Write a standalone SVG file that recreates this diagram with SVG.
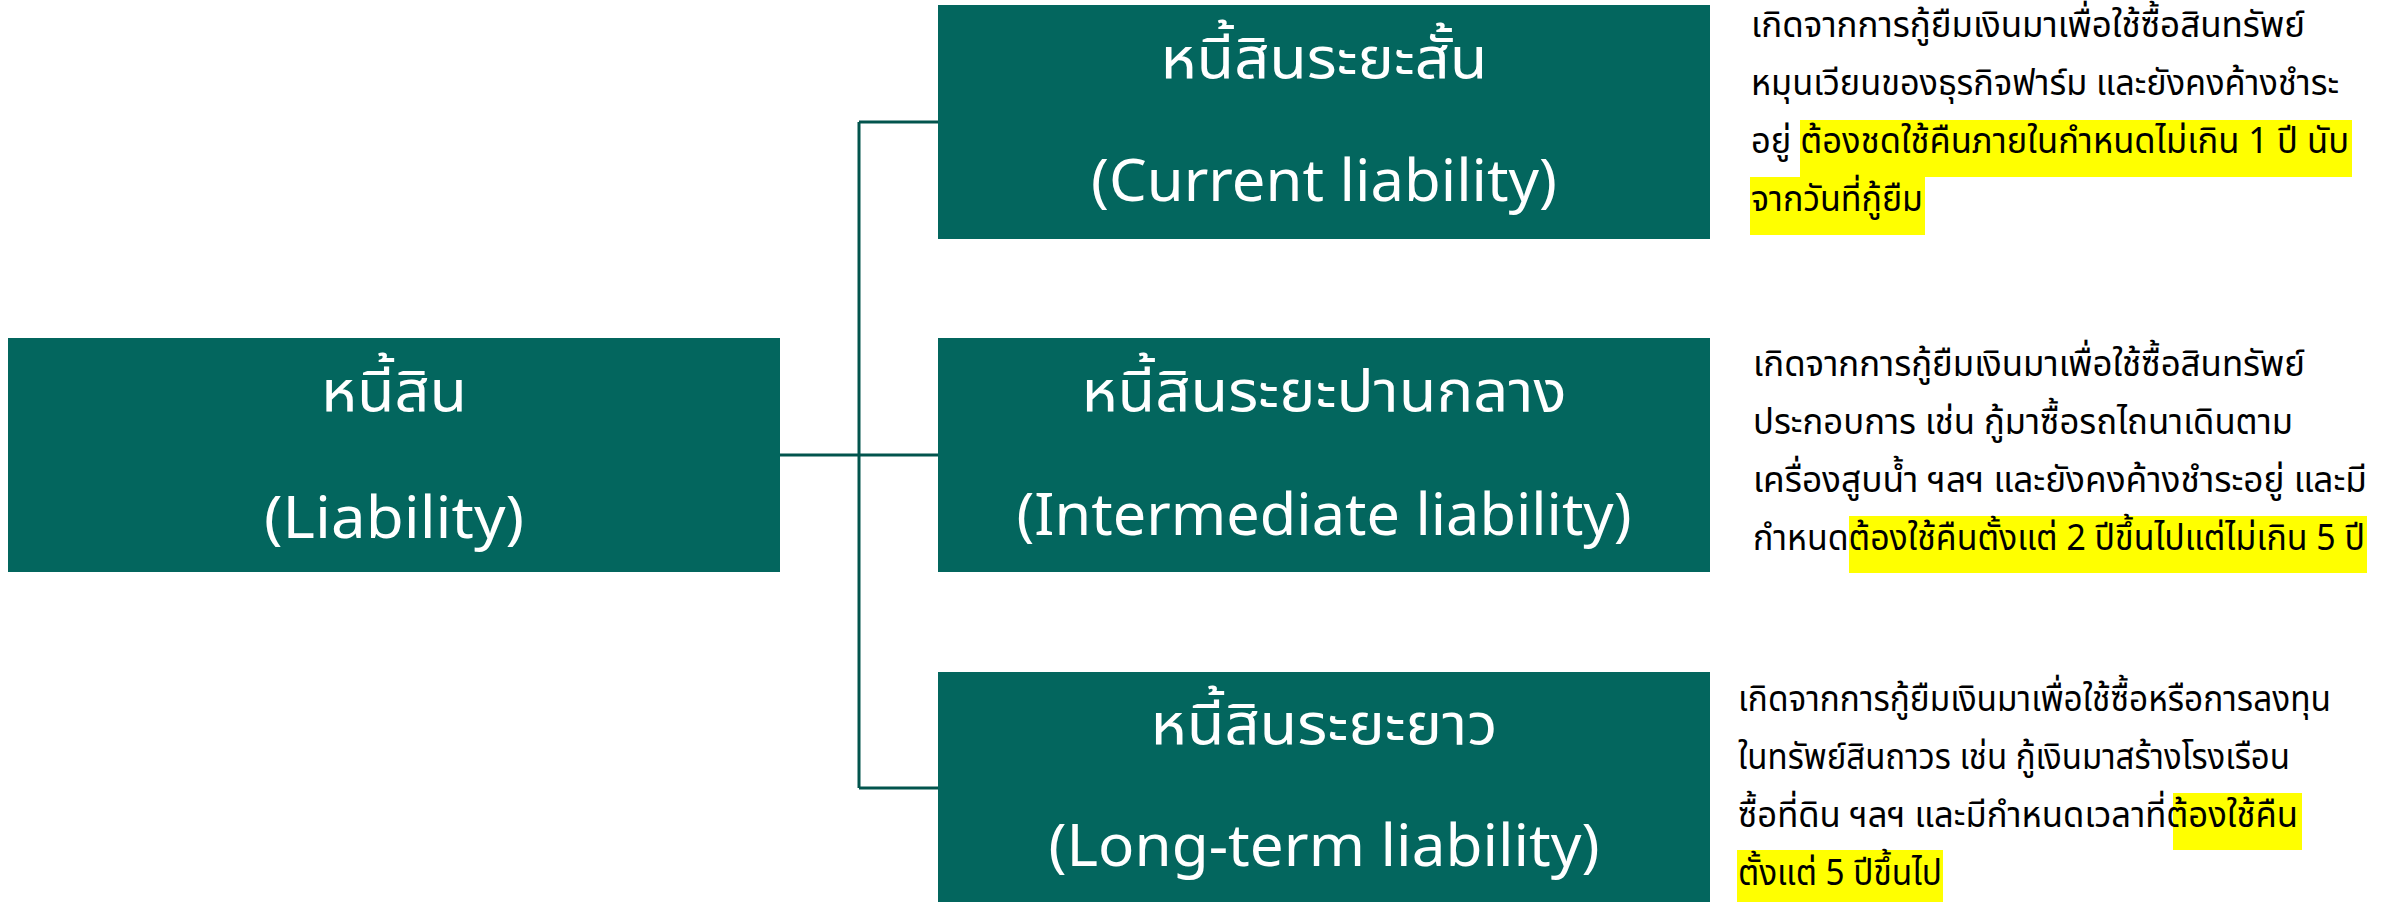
<svg xmlns="http://www.w3.org/2000/svg" width="2386" height="902" viewBox="0 0 2386 902">
<style>
.box{fill:#03665E;}
.ttl{fill:#FFFFFF;font-family:"Noto Sans Thai","Noto Sans","DejaVu Sans",sans-serif;font-size:58px;text-anchor:middle;}
.dsc{fill:#000000;font-family:"Noto Sans Thai","Noto Sans","DejaVu Sans",sans-serif;font-size:36px;}
.hl{fill:#FFFF00;}
.conn{stroke:#02544D;stroke-width:3;fill:none;}
</style>
<rect width="2386" height="902" fill="#FFFFFF"/>
<g id="connectors">
<path class="conn" d="M780 455 H859 M859 122 V788 M859 122 H938 M859 455 H938 M859 788 H938"/>
</g>
<g id="node-liability">
<rect class="box" x="8" y="338" width="772" height="234"/>
<text class="ttl" x="394" y="411" textLength="146" lengthAdjust="spacingAndGlyphs">หนี้สิน</text>
<text class="ttl" x="394" y="538" textLength="260" lengthAdjust="spacingAndGlyphs">(Liability)</text>
</g>
<g id="node-current">
<rect class="box" x="938" y="5" width="772" height="234"/>
<text class="ttl" x="1324" y="78" textLength="327" lengthAdjust="spacingAndGlyphs">หนี้สินระยะสั้น</text>
<text class="ttl" x="1324" y="201" textLength="466" lengthAdjust="spacingAndGlyphs">(Current liability)</text>
</g>
<g id="node-intermediate">
<rect class="box" x="938" y="338" width="772" height="234"/>
<text class="ttl" x="1324" y="411" textLength="485" lengthAdjust="spacingAndGlyphs">หนี้สินระยะปานกลาง</text>
<text class="ttl" x="1324" y="535" textLength="615" lengthAdjust="spacingAndGlyphs">(Intermediate liability)</text>
</g>
<g id="node-longterm">
<rect class="box" x="938" y="672" width="772" height="240"/>
<text class="ttl" x="1324" y="744" textLength="347" lengthAdjust="spacingAndGlyphs">หนี้สินระยะยาว</text>
<text class="ttl" x="1324" y="866" textLength="551" lengthAdjust="spacingAndGlyphs">(Long-term liability)</text>
</g>
<g id="note-current">
<rect class="hl" x="1800" y="120" width="552" height="57"/>
<rect class="hl" x="1750" y="177" width="175" height="58"/>
<text class="dsc" x="1751" y="37" textLength="554" lengthAdjust="spacingAndGlyphs">เกิดจากการกู้ยืมเงินมาเพื่อใช้ซื้อสินทรัพย์</text>
<text class="dsc" x="1751" y="95" textLength="588" lengthAdjust="spacingAndGlyphs">หมุนเวียนของธุรกิจฟาร์ม และยังคงค้างชำระ</text>
<text class="dsc" x="1751" y="153" textLength="598" lengthAdjust="spacingAndGlyphs">อยู่ ต้องชดใช้คืนภายในกำหนดไม่เกิน 1 ปี นับ</text>
<text class="dsc" x="1751" y="211" textLength="172" lengthAdjust="spacingAndGlyphs">จากวันที่กู้ยืม</text>
</g>
<g id="note-intermediate">
<rect class="hl" x="1849" y="516" width="518" height="57"/>
<text class="dsc" x="1753" y="376" textLength="552" lengthAdjust="spacingAndGlyphs">เกิดจากการกู้ยืมเงินมาเพื่อใช้ซื้อสินทรัพย์</text>
<text class="dsc" x="1753" y="434" textLength="540" lengthAdjust="spacingAndGlyphs">ประกอบการ เช่น กู้มาซื้อรถไถนาเดินตาม</text>
<text class="dsc" x="1753" y="492" textLength="614" lengthAdjust="spacingAndGlyphs">เครื่องสูบน้ำ ฯลฯ และยังคงค้างชำระอยู่ และมี</text>
<text class="dsc" x="1753" y="550" textLength="612" lengthAdjust="spacingAndGlyphs">กำหนดต้องใช้คืนตั้งแต่ 2 ปีขึ้นไปแต่ไม่เกิน 5 ปี</text>
</g>
<g id="note-longterm">
<rect class="hl" x="2173" y="793" width="129" height="57"/>
<rect class="hl" x="1737" y="850" width="206" height="52"/>
<text class="dsc" x="1738" y="711" textLength="593" lengthAdjust="spacingAndGlyphs">เกิดจากการกู้ยืมเงินมาเพื่อใช้ซื้อหรือการลงทุน</text>
<text class="dsc" x="1738" y="769" textLength="552" lengthAdjust="spacingAndGlyphs">ในทรัพย์สินถาวร เช่น กู้เงินมาสร้างโรงเรือน</text>
<text class="dsc" x="1738" y="827" textLength="560" lengthAdjust="spacingAndGlyphs">ซื้อที่ดิน ฯลฯ และมีกำหนดเวลาที่ต้องใช้คืน</text>
<text class="dsc" x="1738" y="885" textLength="204" lengthAdjust="spacingAndGlyphs">ตั้งแต่ 5 ปีขึ้นไป</text>
</g>
</svg>
